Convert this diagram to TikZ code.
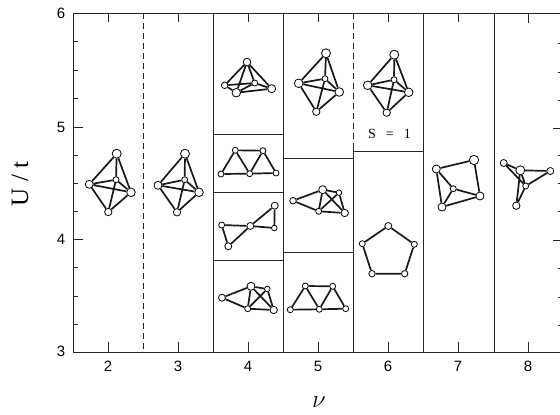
\documentclass[tikz,border=0pt]{standalone}
\usepackage{fontspec}
\usepackage{amsmath}
\setsansfont{Liberation Sans}
\setmainfont{Liberation Serif}
\begin{document}
\begin{tikzpicture}[
    x=1pt, y=-1pt,
    every node/.style={font=\sffamily},
    site/.style={circle, draw=black, fill=white, line width=0.8pt,
                 minimum size=#1*2pt, inner sep=0pt},
    bond/.style={line width=1.7pt, black!90},
    wall/.style={line width=1pt, black!85},
    gap/.style={line width=1pt, black!85, dash pattern=on 6pt off 4pt},
    ticklabel/.style={font=\sffamily\fontsize{15}{15}\selectfont},
  ]
  \useasboundingbox (0,0) rectangle (560,415);

  % frame and panel walls
  \draw[wall] (560,13) -- (73,13) -- (73,352) -- (560,352);
  \draw[gap] (143,13) -- (143,352);
  \draw[wall] (213,13) -- (213,352);
  \draw[wall] (283.5,13) -- (283.5,352);
  \draw[gap] (353,13) -- (353,145);
  \draw[wall] (353,145) -- (353,352);
  \draw[wall] (423,13) -- (423,352);
  \draw[wall] (494,13) -- (494,352);
  \draw[wall] (213,134) -- (283.5,134) (213,192) -- (283.5,192) (213,260) -- (283.5,260);
  \draw[wall] (283.5,158) -- (353,158) (283.5,252) -- (353,252);
  \draw[wall] (353,151) -- (423,151);

  % ticks
  \draw[wall] (108,13) -- ++(0,9) (178,13) -- ++(0,9) (248,13) -- ++(0,9) (318,13) -- ++(0,9)
    (388,13) -- ++(0,9) (458,13) -- ++(0,9) (528,13) -- ++(0,10);
  \draw[wall] (108,352) -- ++(0,-10) (178,352) -- ++(0,-10) (248,352) -- ++(0,-10) (318,352) -- ++(0,-10)
    (388,352) -- ++(0,-10) (458,352) -- ++(0,-10) (528,352) -- ++(0,-10);
  \draw[wall] (73,127) -- ++(10,0) (73,239.5) -- ++(10,0)
    (73,41) -- ++(5,0) (73,70) -- ++(5,0) (73,98) -- ++(5,0)
    (73,155) -- ++(5,0) (73,183) -- ++(5,0) (73,211) -- ++(5,0)
    (73,267) -- ++(5,0) (73,296) -- ++(5,0) (73,324) -- ++(5,0);
  \draw[wall] (560,128) -- ++(-7,0) (560,240) -- ++(-7,0)
    (560,43) -- ++(-2,0) (560,72) -- ++(-2,0) (560,100) -- ++(-2,0)
    (560,155) -- ++(-2,0) (560,183) -- ++(-2,0) (560,211) -- ++(-2,0)
    (560,268) -- ++(-2,0) (560,297) -- ++(-2,0) (560,325) -- ++(-2,0);

  % labels
  \node[ticklabel] (ysix) at (61,13) {6};
  \node[ticklabel] (yfive) at (61,127) {5};
  \node[ticklabel] (yfour) at (61,239) {4};
  \node[ticklabel] (ythree) at (61,351) {3};
  \node[ticklabel] (xtwo) at (108,366) {2};
  \node[ticklabel] (xthree) at (178,366) {3};
  \node[ticklabel] (xfour) at (248,366) {4};
  \node[ticklabel] (xfive) at (318,366) {5};
  \node[ticklabel] (xsix) at (388,366) {6};
  \node[ticklabel] (xseven) at (458,366) {7};
  \node[ticklabel] (xeight) at (528,366) {8};
  \node[font=\rmfamily\fontsize{25}{25}\selectfont, rotate=90] (yname) at (20,184) {U\hspace{7pt}/\hspace{6pt}t};
  \node[font=\fontsize{26}{26}\selectfont] (xname) at (319,402) {$\nu$};
  \node[font=\rmfamily\fontsize{14}{14}\selectfont] (spin) at (389.5,134) {S\hspace{10pt}=\hspace{10pt}1};

  % nu = 2
  \node[site=4.5] (aT) at (116.7,153.7) {};
  \node[site=4] (aL) at (89.3,184.3) {};
  \node[site=3] (aI) at (116,179.7) {};
  \node[site=4.3] (aR) at (131,192.3) {};
  \node[site=3.7] (aB) at (108.3,212) {};
  \draw[bond] (aT) -- (aL) (aT) -- (aI) (aT) -- (aR) (aL) -- (aI) (aL) -- (aR)
    (aL) -- (aB) (aI) -- (aR) (aI) -- (aB) (aB) -- (aR);

  % nu = 3
  \node[site=4.5] (bT) at (185,153.7) {};
  \node[site=4] (bL) at (158,185.3) {};
  \node[site=3] (bI) at (184.7,179.7) {};
  \node[site=4.3] (bR) at (199,192.3) {};
  \node[site=3.7] (bB) at (177,212.3) {};
  \draw[bond] (bT) -- (bL) (bT) -- (bI) (bT) -- (bR) (bL) -- (bI) (bL) -- (bR)
    (bL) -- (bB) (bI) -- (bR) (bI) -- (bB) (bB) -- (bR);

  % nu = 4, from the top down
  \node[site=3.8] (cT) at (247,62) {};
  \node[site=3.3] (cL) at (224.7,85.3) {};
  \node[site=4.3] (cF) at (236.3,92.7) {};
  \node[site=3] (cI) at (254.7,83) {};
  \node[site=4] (cR) at (271.7,88.7) {};
  \draw[bond] (cT) -- (cL) (cT) -- (cF) (cT) -- (cI) (cT) -- (cR) (cL) -- (cF)
    (cL) -- (cI) (cF) -- (cI) (cI) -- (cR) (cF) -- (cR);

  \node[site=3] (dA) at (235.3,150.3) {};
  \node[site=3] (dB) at (263,150.7) {};
  \node[site=3] (dC) at (221,174) {};
  \node[site=3] (dD) at (249.7,173.7) {};
  \node[site=3] (dE) at (276,173) {};
  \draw[bond] (dC) -- (dA) (dA) -- (dD) (dA) -- (dB) (dD) -- (dB) (dB) -- (dE)
    (dC) -- (dD) (dD) -- (dE);

  \node[site=3] (eA) at (221.7,225) {};
  \node[site=3.5] (eB) at (228.3,246.3) {};
  \node[site=3.5] (eC) at (250.3,226) {};
  \node[site=3.5] (eD) at (274.7,205.7) {};
  \node[site=2.8] (eE) at (274.3,228) {};
  \draw[bond] (eA) -- (eB) (eA) -- (eC) (eB) -- (eC) (eC) -- (eD) (eD) -- (eE) (eC) -- (eE);

  \node[site=3.5] (fL) at (222,297.7) {};
  \node[site=4] (fT) at (251,286.3) {};
  \node[site=2.8] (fU) at (267.3,289) {};
  \node[site=3] (fB) at (247.7,308.7) {};
  \node[site=3.7] (fR) at (273.7,310) {};
  \draw[bond] (fL) -- (fT) (fL) -- (fB) (fT) -- (fU) (fT) -- (fB) (fT) -- (fR)
    (fU) -- (fB) (fU) -- (fR) (fB) -- (fR);

  % nu = 5, from the top down
  \node[site=4.5] (gT) at (326,53.3) {};
  \node[site=4.3] (gL) at (298.7,83.3) {};
  \node[site=3] (gI) at (325,78.7) {};
  \node[site=4.3] (gR) at (339.3,92) {};
  \node[site=3.7] (gB) at (316.3,111.7) {};
  \draw[bond] (gT) -- (gL) (gT) -- (gI) (gT) -- (gR) (gL) -- (gI) (gL) -- (gR)
    (gL) -- (gB) (gI) -- (gR) (gI) -- (gB) (gB) -- (gR);

  \node[site=3.3] (hL) at (293,200.7) {};
  \node[site=4] (hT) at (322.7,189.7) {};
  \node[site=2.8] (hU) at (339,192.7) {};
  \node[site=3] (hB) at (318.7,211.3) {};
  \node[site=3.7] (hR) at (344.7,213) {};
  \draw[bond] (hL) -- (hT) (hL) -- (hB) (hT) -- (hU) (hT) -- (hB) (hT) -- (hR)
    (hU) -- (hB) (hU) -- (hR) (hB) -- (hR);

  \node[site=3] (iA) at (305.3,286) {};
  \node[site=3] (iB) at (332.7,286.3) {};
  \node[site=3] (iC) at (290.3,309.7) {};
  \node[site=3] (iD) at (319.3,309.3) {};
  \node[site=3] (iE) at (345.7,308.7) {};
  \draw[bond] (iC) -- (iA) (iA) -- (iD) (iA) -- (iB) (iD) -- (iB) (iB) -- (iE)
    (iC) -- (iD) (iD) -- (iE);

  % nu = 6
  \node[site=4.5] (jT) at (394.3,54.7) {};
  \node[site=4.3] (jL) at (367.7,85.3) {};
  \node[site=3] (jI) at (394,79.7) {};
  \node[site=4.3] (jR) at (408.7,92.3) {};
  \node[site=3.7] (jB) at (386.7,112.7) {};
  \draw[bond] (jT) -- (jL) (jT) -- (jI) (jT) -- (jR) (jL) -- (jI) (jL) -- (jR)
    (jL) -- (jB) (jI) -- (jR) (jI) -- (jB) (jB) -- (jR);

  \node[site=3.5] (kT) at (388.3,226) {};
  \node[site=3] (kR) at (414.3,244.3) {};
  \node[site=3.2] (kS) at (404.7,273.7) {};
  \node[site=3.2] (kQ) at (372,273.7) {};
  \node[site=3] (kL) at (362.3,243.7) {};
  \draw[bond] (kT) -- (kR) (kR) -- (kS) (kS) -- (kQ) (kQ) -- (kL) (kL) -- (kT);

  % nu = 7
  \node[site=4] (mL) at (436.3,169) {};
  \node[site=4.7] (mT) at (474,160) {};
  \node[site=3] (mI) at (453.3,188.7) {};
  \node[site=4] (mR) at (480,196) {};
  \node[site=4] (mB) at (442,207) {};
  \draw[bond] (mL) -- (mT) (mT) -- (mR) (mL) -- (mI) (mL) -- (mB) (mI) -- (mR)
    (mI) -- (mB) (mB) -- (mR);

  % nu = 8
  \node[site=3.5] (nA) at (503.7,163) {};
  \node[site=4.5] (nB) at (520.3,170.3) {};
  \node[site=3.5] (nC) at (550.3,171) {};
  \node[site=3] (nI) at (525.7,186) {};
  \node[site=3.7] (nD) at (516.3,205.7) {};
  \draw[bond] (nA) -- (nB) (nA) -- (nI) (nB) -- (nC) (nC) -- (nI) (nB) -- (nI)
    (nB) -- (nD) (nI) -- (nD);
\end{tikzpicture}
\end{document}
